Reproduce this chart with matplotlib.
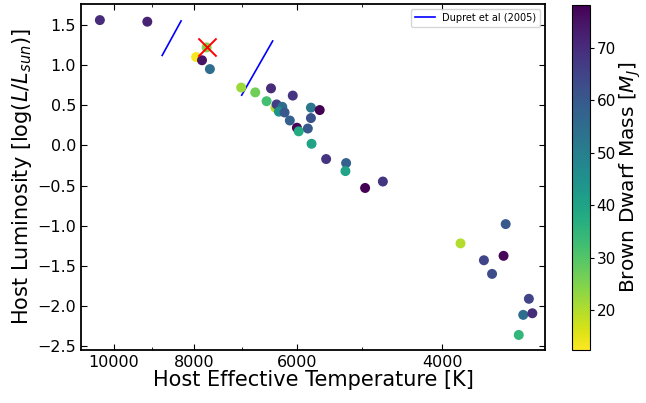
import numpy as np
import matplotlib
matplotlib.use('Agg')
from matplotlib import pyplot as plt
from matplotlib.ticker import FixedLocator, NullFormatter, ScalarFormatter

# host star properties and brown dwarf masses
teff = [10400, 9110, 7950, 7820, 7650, 7010, 6740, 6530, 6450, 6070,
        6370, 6350, 6250, 6310, 6210, 6120, 6000, 5970, 5820, 5770,
        5770, 5630, 5760, 5530, 5230, 5240, 4960, 4720, 3350, 3800,
        3560, 3370, 3480, 3140, 3190, 3110, 3230, 7720]
lum = [1.56, 1.54, 1.10, 1.06, 0.95, 0.72, 0.66, 0.55, 0.71, 0.62,
       0.47, 0.51, 0.48, 0.42, 0.41, 0.31, 0.22, 0.175, 0.21, 0.47,
       0.34, 0.44, 0.02, -0.17, -0.22, -0.32, -0.53, -0.45, -0.98, -1.22,
       -1.43, -1.375, -1.60, -1.91, -2.11, -2.09, -2.36, 1.22]
mass = [70, 72, 13, 75, 55, 22, 27, 32, 70, 68,
        20, 66, 55, 45, 60, 58, 77, 38, 60, 52,
        62, 78, 40, 68, 58, 40, 78, 68, 60, 20,
        65, 77, 63, 65, 55, 70, 35, 25]

# highlighted object
x_teff, x_lum = 7720, 1.22

# Dupret et al (2005) segments
dup1_t = [8740, 8290]
dup1_l = [1.12, 1.55]
dup2_t = [7000, 6420]
dup2_l = [0.625, 1.30]

fig = plt.figure(figsize=(6.46, 4.03), dpi=100)
ax = fig.add_axes([0.125, 0.131, 0.719, 0.859])
cax = fig.add_axes([0.885, 0.131, 0.028, 0.857])

sc = ax.scatter(teff, lum, c=mass, cmap='viridis_r', vmin=12.4, vmax=78.2, s=38, zorder=3)
ax.scatter([x_teff], [x_lum], marker='x', color='red', s=170, linewidths=1.4, zorder=4)
ax.plot(dup1_t, dup1_l, color='blue', lw=1.2, label='Dupret et al (2005)')
ax.plot(dup2_t, dup2_l, color='blue', lw=1.2)

ax.set_xscale('log')
ax.set_xlim(10970, 3000)
ax.set_ylim(-2.55, 1.76)
ax.xaxis.set_major_locator(FixedLocator([10000, 8000, 6000, 4000]))
ax.xaxis.set_minor_locator(FixedLocator([9000, 7000, 5000]))
ax.xaxis.set_major_formatter(ScalarFormatter())
ax.xaxis.set_minor_formatter(NullFormatter())
ax.set_yticks([-2.5, -2.0, -1.5, -1.0, -0.5, 0.0, 0.5, 1.0, 1.5])
ax.tick_params(which='both', direction='in', top=True, right=True, labelsize=11.5)
ax.tick_params(which='major', length=4)
ax.tick_params(which='minor', length=2)
for sp in ax.spines.values():
    sp.set_linewidth(1.3)

ax.set_xlabel('Host Effective Temperature [K]', fontsize=15, labelpad=0)
ax.set_ylabel(r'Host Luminosity [$\log(L/L_{sun})$]', fontsize=15, labelpad=2)
ax.legend(loc='upper right', fontsize=7)

cb = fig.colorbar(sc, cax=cax)
cb.set_ticks([20, 30, 40, 50, 60, 70])
cb.ax.tick_params(labelsize=11, length=3, pad=2)
cb.set_label(r'Brown Dwarf Mass [$M_J$]', fontsize=14.5, labelpad=1)

fig.savefig('out.png', dpi=100)
